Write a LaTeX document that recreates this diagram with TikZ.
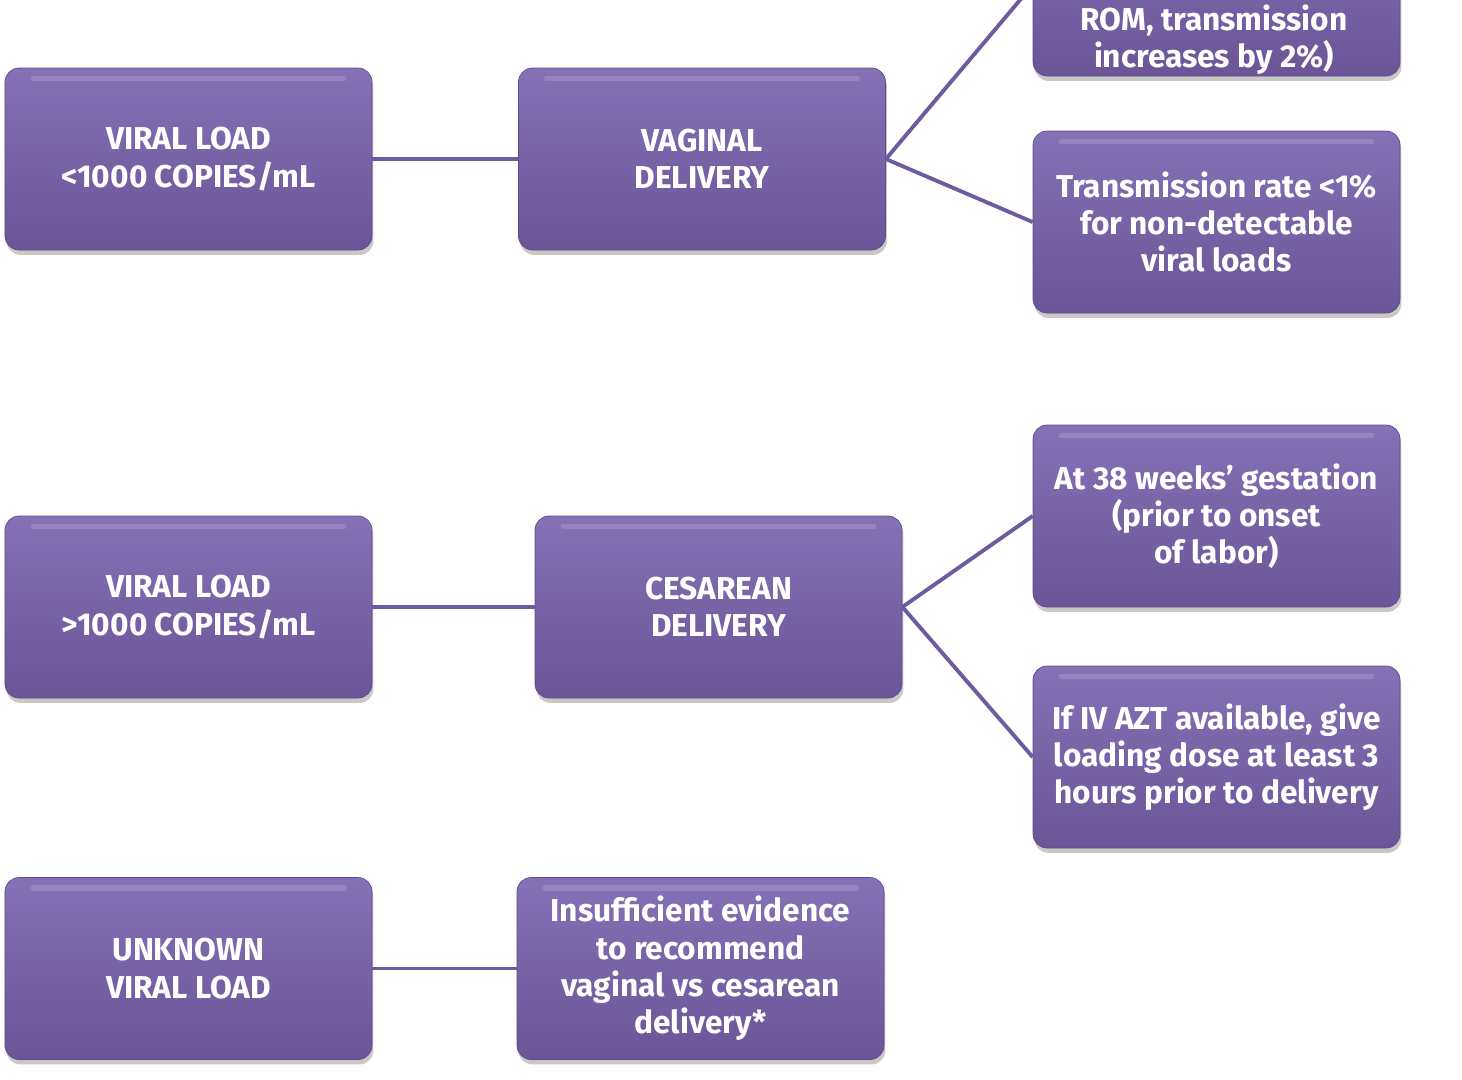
\documentclass[tikz,border=0pt]{standalone}
\usepackage{fontspec}
\setmainfont{Fira Sans}
\usetikzlibrary{shadows}
\definecolor{vltop}{HTML}{8571B6}
\definecolor{vlbottom}{HTML}{6B5597}
\definecolor{vledge}{HTML}{5E4A88}
\definecolor{vlline}{HTML}{6E5A9F}
\tikzset{
    vl-box/.style = {rectangle, rounded corners=4pt, top color=vltop, bottom color=vlbottom, draw=vledge, very thin, minimum width=3.67cm, minimum height=1.82cm, inner sep=2pt, text=white, font=\bfseries\fontsize{9}{10.6}\selectfont, align=center,
        drop shadow={shadow xshift=0.4pt, shadow yshift=-1.4pt, opacity=0.3, fill=black!70},
        path picture={\draw[white, opacity=0.14, line width=1.5pt, line cap=round] ([xshift=8pt,yshift=-3pt]path picture bounding box.north west) -- ([xshift=-8pt,yshift=-3pt]path picture bounding box.north east);}},
    vl-text/.style = {text=white, font=\bfseries\fontsize{9}{10.6}\selectfont, align=center},
    vl-link/.style = {draw=vlline, line width=1.1pt},
}

\begin{document}
\begin{tikzpicture}
\clip (0,0) rectangle (14.62,-10.79);
% left column
\node [vl-box] (low) at (1.885,-1.59) {VIRAL LOAD\\<1000 COPIES/mL};
\node [vl-box] (high) at (1.885,-6.07) {VIRAL LOAD\\>1000 COPIES/mL};
\node [vl-box] (unknown) at (1.885,-9.685) {UNKNOWN\\VIRAL LOAD};
% middle column
\node [vl-box] (vaginal) at (7.02,-1.59) {VAGINAL\\DELIVERY};
\node [vl-box] (cesarean) at (7.185,-6.07) {CESAREAN\\DELIVERY};
\node [vl-box] (evidence) at (7.005,-9.685) {Insufficient evidence\\to recommend\\vaginal vs cesarean\\delivery*};
% right column
\node [vl-box] (rom) at (12.165,0.15) {};
\node [vl-text] at (12.14,-0.40) {ROM, transmission\\increases by 2\%)};
\node [vl-box] (undetect) at (12.165,-2.22) {Transmission rate <1\%\\for non-detectable\\viral loads};
\node [vl-box] (weeks) at (12.165,-5.16) {At 38 weeks’ gestation\\(prior to onset\\of labor)};
\node [vl-box] (azt) at (12.165,-7.57) {If IV AZT available, give\\loading dose at least 3\\hours prior to delivery};
% links
\draw [vl-link] (low.east) -- (vaginal.west);
\draw [vl-link] (high.east) -- (cesarean.west);
\draw [vl-link] (unknown.east) -- (evidence.west);
\draw [vl-link] (vaginal.east) -- (rom.west);
\draw [vl-link] (vaginal.east) -- (undetect.west);
\draw [vl-link] (cesarean.east) -- (weeks.west);
\draw [vl-link] (cesarean.east) -- (azt.west);
\end{tikzpicture}
\end{document}
